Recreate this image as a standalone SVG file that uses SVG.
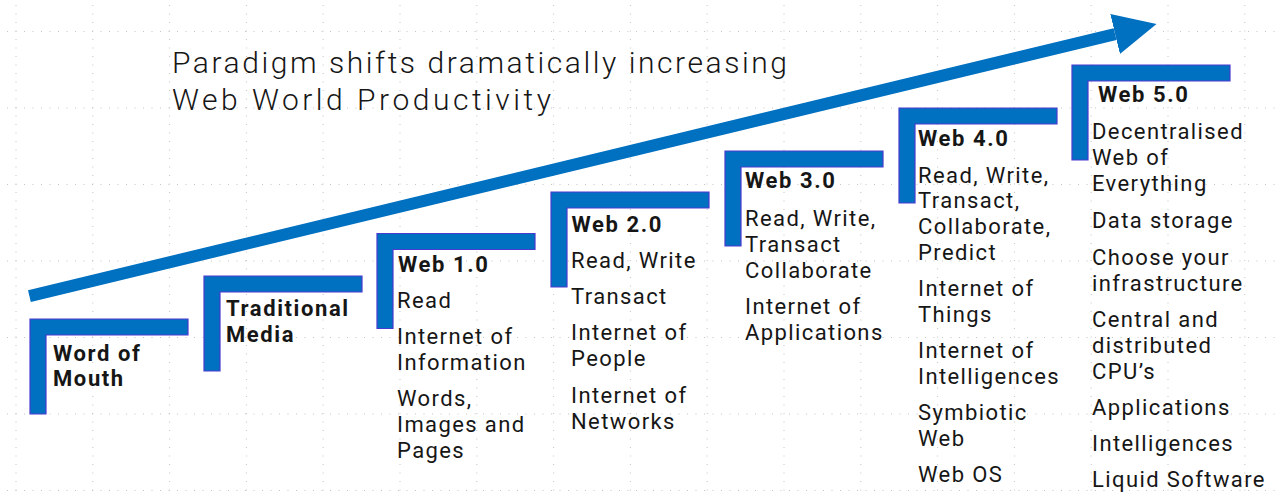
<svg xmlns="http://www.w3.org/2000/svg" width="1277" height="494" viewBox="0 0 1277 494">
<style>
.grid line{stroke:#c4c4c4;stroke-width:1;stroke-dasharray:1 7.5}
.br{fill:#0070C0;stroke:#4a3bd0;stroke-width:1.2}
text{font-family:Roboto,"Liberation Sans",sans-serif;fill:#161616}
.t{font-size:30px;font-weight:300}
.b{font-size:22px;font-weight:700;letter-spacing:1.6px}
.r{font-size:22px;font-weight:400;letter-spacing:1.4px}
</style>
<defs>
<marker id="ah" markerUnits="userSpaceOnUse" viewBox="0 -21 43 42" markerWidth="43" markerHeight="42" refX="0" refY="0" orient="auto">
<path d="M0,-20.5 L42.6,0 L0,20.5 Z" fill="#0070C0"/>
</marker>
<path id="bk" d="M0,0 H158 V16 H16 V95 H0 Z"/>
</defs>
<rect width="1277" height="494" fill="#ffffff"/>
<g class="grid">
<line x1="7" y1="31.5" x2="1277" y2="31.5"/>
<line x1="7" y1="108" x2="1277" y2="108"/>
<line x1="7" y1="184.5" x2="1277" y2="184.5"/>
<line x1="7" y1="261" x2="1277" y2="261"/>
<line x1="7" y1="337.5" x2="1277" y2="337.5"/>
<line x1="7" y1="414" x2="1277" y2="414"/>
<line x1="7" y1="490.5" x2="1277" y2="490.5"/>
<line x1="16" y1="5" x2="16" y2="494"/>
<line x1="92.8" y1="5" x2="92.8" y2="494"/>
<line x1="169.6" y1="5" x2="169.6" y2="494"/>
<line x1="246.4" y1="5" x2="246.4" y2="494"/>
<line x1="323.2" y1="5" x2="323.2" y2="494"/>
<line x1="400" y1="5" x2="400" y2="494"/>
<line x1="476.8" y1="5" x2="476.8" y2="494"/>
<line x1="553.6" y1="5" x2="553.6" y2="494"/>
<line x1="630.4" y1="5" x2="630.4" y2="494"/>
<line x1="707.2" y1="5" x2="707.2" y2="494"/>
<line x1="784" y1="5" x2="784" y2="494"/>
<line x1="860.8" y1="5" x2="860.8" y2="494"/>
<line x1="937.6" y1="5" x2="937.6" y2="494"/>
<line x1="1014.4" y1="5" x2="1014.4" y2="494"/>
<line x1="1091.2" y1="5" x2="1091.2" y2="494"/>
<line x1="1168" y1="5" x2="1168" y2="494"/>
<line x1="1244.8" y1="5" x2="1244.8" y2="494"/>
</g>
<g id="connectors">
<line x1="29.4" y1="296.1" x2="1115.1" y2="34.05" stroke="#0070C0" stroke-width="12" marker-end="url(#ah)"/>
</g>
<g id="title">
<text class="t" x="172" y="73" textLength="615" lengthAdjust="spacing">Paradigm shifts dramatically increasing</text>
<text class="t" x="172" y="110" textLength="379" lengthAdjust="spacing">Web World Productivity</text>
</g>
<g id="word-of-mouth">
<use href="#bk" class="br" x="30" y="319"/>
<text class="b" x="53" y="361">Word of</text>
<text class="b" x="53" y="386">Mouth</text>
</g>
<g id="traditional-media">
<use href="#bk" class="br" x="204" y="276"/>
<text class="b" x="226" y="316">Traditional</text>
<text class="b" x="226" y="342">Media</text>
</g>
<g id="web-1">
<use href="#bk" class="br" x="377" y="233.5"/>
<text class="b" x="398" y="272">Web 1.0</text>
<text class="r" x="397" y="308">Read</text>
<text class="r" x="397" y="344">Internet of</text>
<text class="r" x="397" y="370">Information</text>
<text class="r" x="397" y="406">Words,</text>
<text class="r" x="397" y="432">Images and</text>
<text class="r" x="397" y="458">Pages</text>
</g>
<g id="web-2">
<use href="#bk" class="br" x="551" y="192"/>
<text class="b" x="571.5" y="232">Web 2.0</text>
<text class="r" x="571" y="268">Read, Write</text>
<text class="r" x="571" y="304">Transact</text>
<text class="r" x="571" y="340">Internet of</text>
<text class="r" x="571" y="366">People</text>
<text class="r" x="571" y="403">Internet of</text>
<text class="r" x="571" y="429">Networks</text>
</g>
<g id="web-3">
<use href="#bk" class="br" x="725" y="151"/>
<text class="b" x="745" y="188">Web 3.0</text>
<text class="r" x="745" y="226">Read, Write,</text>
<text class="r" x="745" y="252">Transact</text>
<text class="r" x="745" y="278">Collaborate</text>
<text class="r" x="745" y="314">Internet of</text>
<text class="r" x="745" y="340">Applications</text>
</g>
<g id="web-4">
<use href="#bk" class="br" x="899" y="108"/>
<text class="b" x="918" y="146">Web 4.0</text>
<text class="r" x="918" y="183">Read, Write,</text>
<text class="r" x="918" y="208">Transact,</text>
<text class="r" x="918" y="234">Collaborate,</text>
<text class="r" x="918" y="260">Predict</text>
<text class="r" x="918" y="296">Internet of</text>
<text class="r" x="918" y="322">Things</text>
<text class="r" x="918" y="358">Internet of</text>
<text class="r" x="918" y="384">Intelligences</text>
<text class="r" x="918" y="420">Symbiotic</text>
<text class="r" x="918" y="446">Web</text>
<text class="r" x="918" y="482">Web OS</text>
</g>
<g id="web-5">
<use href="#bk" class="br" x="1072" y="65"/>
<text class="b" x="1098" y="102">Web 5.0</text>
<text class="r" x="1092" y="139">Decentralised</text>
<text class="r" x="1092" y="165">Web of</text>
<text class="r" x="1092" y="191">Everything</text>
<text class="r" x="1092" y="228">Data storage</text>
<text class="r" x="1092" y="265">Choose your</text>
<text class="r" x="1092" y="291">infrastructure</text>
<text class="r" x="1092" y="327">Central and</text>
<text class="r" x="1092" y="353">distributed</text>
<text class="r" x="1092" y="379">CPU’s</text>
<text class="r" x="1092" y="415">Applications</text>
<text class="r" x="1092" y="451">Intelligences</text>
<text class="r" x="1092" y="487">Liquid Software</text>
</g>
</svg>
